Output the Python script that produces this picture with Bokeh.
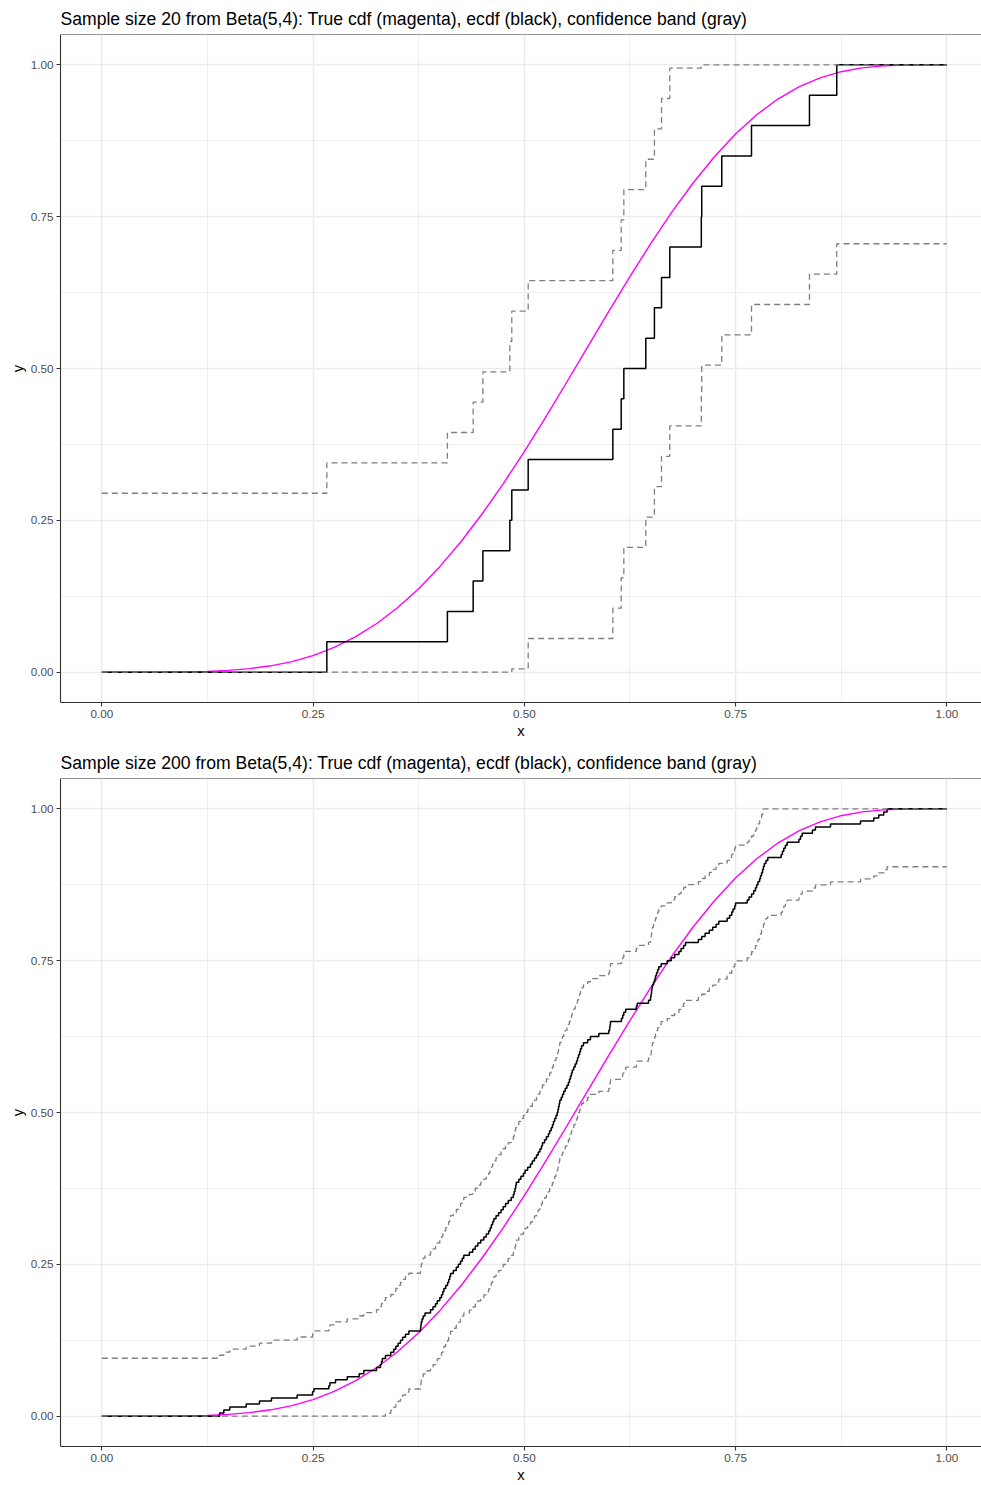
from bokeh.plotting import figure
from bokeh.layouts import column
from bokeh.models import Range1d, FixedTicker, Span
from bokeh.embed import file_html
from bokeh.resources import INLINE

# ---------------- data ----------------
TITLE_20 = "Sample size 20 from Beta(5,4): True cdf (magenta), ecdf (black), confidence band (gray)"
TITLE_200 = "Sample size 200 from Beta(5,4): True cdf (magenta), ecdf (black), confidence band (gray)"

# sorted sample (n = 20), read from the ecdf jump positions
SAMPLE_20 = [0.2663, 0.4090, 0.4395, 0.4510, 0.4829, 0.4852, 0.5046, 0.6048, 0.6147, 0.6178,
             0.6438, 0.6540, 0.6624, 0.6722, 0.7095, 0.7100, 0.7337, 0.7689, 0.8375, 0.8698]

# sorted sample (n = 200), read from the ecdf jump positions
SAMPLE_200 = [
    0.1393, 0.1444, 0.1515, 0.1709, 0.1866, 0.2008, 0.2312, 0.2494, 0.2510, 0.2687,
    0.2700, 0.2766, 0.2904, 0.3046, 0.3101, 0.3251, 0.3298, 0.3310, 0.3320, 0.3357,
    0.3420, 0.3456, 0.3480, 0.3507, 0.3535, 0.3560, 0.3594, 0.3634, 0.3772, 0.3776,
    0.3780, 0.3790, 0.3803, 0.3825, 0.3890, 0.3920, 0.3949, 0.3970, 0.4000, 0.4020,
    0.4035, 0.4048, 0.4070, 0.4092, 0.4105, 0.4117, 0.4127, 0.4160, 0.4195, 0.4220,
    0.4245, 0.4265, 0.4284, 0.4350, 0.4390, 0.4420, 0.4450, 0.4485, 0.4521, 0.4550,
    0.4578, 0.4595, 0.4610, 0.4625, 0.4639, 0.4665, 0.4695, 0.4725, 0.4750, 0.4778,
    0.4810, 0.4845, 0.4870, 0.4880, 0.4890, 0.4898, 0.4905, 0.4935, 0.4960, 0.4990,
    0.5010, 0.5040, 0.5073, 0.5095, 0.5120, 0.5145, 0.5165, 0.5185, 0.5203, 0.5215,
    0.5240, 0.5262, 0.5285, 0.5300, 0.5318, 0.5333, 0.5345, 0.5360, 0.5375, 0.5389,
    0.5398, 0.5405, 0.5413, 0.5420, 0.5437, 0.5452, 0.5467, 0.5485, 0.5505, 0.5522,
    0.5535, 0.5547, 0.5558, 0.5568, 0.5585, 0.5602, 0.5618, 0.5630, 0.5642, 0.5655,
    0.5665, 0.5678, 0.5700, 0.5750, 0.5783, 0.5882, 0.6000, 0.6010, 0.6015, 0.6020,
    0.6150, 0.6165, 0.6178, 0.6200, 0.6326, 0.6336, 0.6470, 0.6494, 0.6500, 0.6505,
    0.6510, 0.6516, 0.6530, 0.6543, 0.6553, 0.6565, 0.6578, 0.6592, 0.6620, 0.6691,
    0.6740, 0.6780, 0.6830, 0.6855, 0.6885, 0.6908, 0.7060, 0.7100, 0.7140, 0.7190,
    0.7230, 0.7270, 0.7302, 0.7401, 0.7430, 0.7455, 0.7470, 0.7490, 0.7500, 0.7638,
    0.7660, 0.7690, 0.7715, 0.7736, 0.7750, 0.7765, 0.7785, 0.7795, 0.7808, 0.7820,
    0.7830, 0.7840, 0.7860, 0.7882, 0.8040, 0.8055, 0.8071, 0.8090, 0.8111, 0.8250,
    0.8269, 0.8289, 0.8410, 0.8446, 0.8624, 0.8979, 0.9136, 0.9195, 0.9254, 0.9294,
]

# half-widths of the confidence bands
EPS_20 = 0.2946
EPS_200 = 0.0953

# true Beta(5,4) cdf, tabulated
CDF_X = [0.000, 0.025, 0.050, 0.075, 0.100, 0.125, 0.150, 0.175, 0.200, 0.225,
         0.250, 0.275, 0.300, 0.325, 0.350, 0.375, 0.400, 0.425, 0.450, 0.475,
         0.500, 0.525, 0.550, 0.575, 0.600, 0.625, 0.650, 0.675, 0.700, 0.725,
         0.750, 0.775, 0.800, 0.825, 0.850, 0.875, 0.900, 0.925, 0.950, 0.975, 1.000]
CDF_Y = [0.0, 0.0000005, 0.0000154, 0.0001095, 0.000432, 0.001230, 0.002854, 0.005743,
         0.010406, 0.017401, 0.027298, 0.040652, 0.057968, 0.079675, 0.10609, 0.13741,
         0.17367, 0.21476, 0.26038, 0.31010, 0.36328, 0.41918, 0.47696, 0.53560,
         0.59409, 0.65137, 0.70640, 0.75820, 0.80590, 0.84873, 0.88618, 0.91789,
         0.94372, 0.96384, 0.97864, 0.98875, 0.99498, 0.99827, 0.99963, 0.999975, 1.0]

TICK_VALUES = [0.0, 0.25, 0.5, 0.75, 1.0]
TICK_LABELS = ["0.00", "0.25", "0.50", "0.75", "1.00"]
MINOR_VALUES = [0.125, 0.375, 0.625, 0.875]

FONT = "Liberation Sans"
X_START, X_END = -0.0489, 1.0411
Y_START, Y_END = -0.05, 1.05


def make_panel(sample, eps, title, height, bottom_border):
    n = len(sample)
    xs = [0.0] + sorted(sample) + [1.0]
    ys = [0.0] + [(i + 1) / n for i in range(n)] + [1.0]
    upper = [min(v + eps, 1.0) for v in ys]
    lower = [max(v - eps, 0.0) for v in ys]

    p = figure(width=981, height=height,
               x_range=Range1d(X_START, X_END), y_range=Range1d(Y_START, Y_END),
               output_backend="svg", toolbar_location=None,
               min_border_left=60, min_border_right=0,
               min_border_top=34, min_border_bottom=bottom_border)
    p.background_fill_color = "white"
    p.border_fill_color = "white"
    p.outline_line_color = None

    p.title.text = title
    p.title.text_font = FONT
    p.title.text_font_size = "17.6px"
    p.title.text_font_style = "normal"
    p.title.text_color = "black"
    p.title.align = "left"
    p.title.offset = 0
    p.title.standoff = 12

    for grid in (p.xgrid, p.ygrid):
        grid.ticker = FixedTicker(ticks=TICK_VALUES, minor_ticks=MINOR_VALUES)
        grid.grid_line_color = "#EBEBEB"
        grid.grid_line_width = 1.6
        grid.minor_grid_line_color = "#EBEBEB"
        grid.minor_grid_line_width = 0.8

    overrides = {v: l for v, l in zip(TICK_VALUES, TICK_LABELS)}
    for ax, lab in ((p.xaxis, "x"), (p.yaxis, "y")):
        ax.ticker = FixedTicker(ticks=TICK_VALUES)
        ax.major_label_overrides = overrides
        ax.axis_label = lab
        ax.axis_label_text_font = FONT
        ax.axis_label_text_font_size = "14.7px"
        ax.axis_label_text_font_style = "normal"
        ax.axis_label_text_color = "black"
        ax.major_label_text_font = FONT
        ax.major_label_text_font_size = "11.7px"
        ax.major_label_text_color = "#4D4D4D"
        ax.axis_line_color = "#333333"
        ax.axis_line_width = 1.1
        ax.major_tick_line_color = "#333333"
        ax.major_tick_line_width = 1.1
        ax.major_tick_out = 4
        ax.major_tick_in = 0
        ax.minor_tick_line_color = None
        ax.major_label_standoff = 3
        ax.axis_label_standoff = 2
    p.yaxis.major_label_orientation = "horizontal"

    # top edge of the panel border (the right edge is cut off as in the reference)
    p.add_layout(Span(location=Y_END, dimension="width", line_color="#333333", line_width=1.1))

    p.line(CDF_X, CDF_Y, line_color="#FF00FF", line_width=1.4)
    p.step(xs, ys, mode="after", line_color="black", line_width=1.5)
    p.step(xs, upper, mode="after", line_color="#7F7F7F", line_width=1.3, line_dash="6 4")
    p.step(xs, lower, mode="after", line_color="#7F7F7F", line_width=1.3, line_dash="6 4")
    return p


p1 = make_panel(SAMPLE_20, EPS_20, TITLE_20, 744, 42)
p2 = make_panel(SAMPLE_200, EPS_200, TITLE_200, 741, 39)
layout = column(p1, p2, spacing=0)

open("out.html", "w").write(file_html(layout, INLINE))
